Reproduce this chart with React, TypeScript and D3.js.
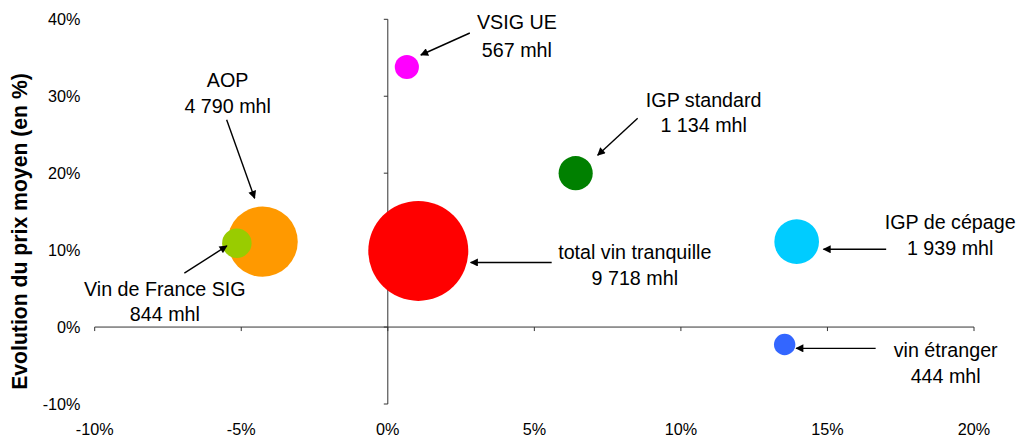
import React from 'react';
import * as d3 from 'd3';

// Catégories de vins, évolution (en %) et volumes (en milliers d'hl)
const categories = [
  'VSIG UE',
  'IGP standard',
  'AOP',
  'Vin de France SIG',
  'total vin tranquille',
  'IGP de cépage',
  'vin étranger',
];
const volumeChange = [0.65, 6.41, -4.27, -5.15, 1.04, 13.95, 13.54];
const priceChange = [33.8, 20.0, 11.1, 10.9, 9.9, 11.1, -2.27];
const volumesMhl = [567, 1134, 4790, 844, 9718, 1939, 444];
const bubbleColors = ['#FF00FF', '#008000', '#FF9900', '#99CC00', '#FF0000', '#00CCFF', '#3366FF'];

const xTicks = [-10, -5, 0, 5, 10, 15, 20];
const yTicks = [-10, 0, 10, 20, 30, 40];
const yTitle = 'Evolution du prix moyen (en %)';

// Callout layout, in pixels relative to each bubble centre:
// label anchor (centre of first baseline), arrow tail, arrow tip, line gap
const callouts = [
  { lx: 110, ly: -38, tx: 63, ty: -34, hx: 14, hy: -12, gap: 28 },
  { lx: 128, ly: -66.5, tx: 62, ty: -55, hx: 22, hy: -18, gap: 25 },
  { lx: -35, ly: -154.5, tx: -36, ty: -122, hx: -8, hy: -43.5, gap: 26 },
  { lx: -72, ly: 52.7, tx: -52.5, ty: 30, hx: -10, hy: 2.7, gap: 25 },
  { lx: 216.5, ly: 8.3, tx: 133.4, ty: 11.6, hx: 52.4, hy: 11.6, gap: 26 },
  { lx: 153.5, ly: -12.7, tx: 89.5, ty: 7.6, hx: 26.8, hy: 7.6, gap: 26 },
  { lx: 161, ly: 12.2, tx: 91, ty: 3.8, hx: 11.5, hy: 3.8, gap: 26.5 },
];

const W = 1021;
const H = 437;
const FONT = '"Liberation Sans", Arial, Helvetica, sans-serif';

const frLocale = d3.formatLocale({ decimal: ',', thousands: ' ', grouping: [3], currency: ['', ' €'] });
const fmtVol = frLocale.format(',d');

export default function App() {
  const x = d3.scaleLinear().domain([-10, 20]).range([94.7, 974]);
  const y = d3.scaleLinear().domain([-10, 40]).range([404, 19.3]);
  const r = d3.scaleSqrt().domain([0, 9718]).range([0, 50]);

  const x0 = x(0);
  const y0 = y(0);
  const axisColor = '#333';

  return (
    <svg
      width={W}
      height={H}
      viewBox={`0 0 ${W} ${H}`}
      style={{ position: 'absolute', left: 0, top: 0, background: '#fff', display: 'block' }}
      fontFamily={FONT}
    >
      <defs>
        <marker
          id="arrowHead"
          viewBox="0 0 10 10"
          refX="9"
          refY="5"
          markerWidth="9"
          markerHeight="8"
          markerUnits="userSpaceOnUse"
          orient="auto"
        >
          <path d="M0,0 L10,5 L0,10 Z" fill="#000" />
        </marker>
      </defs>

      {/* axes */}
      <line x1={x(-10)} x2={x(20)} y1={y0} y2={y0} stroke={axisColor} strokeWidth={1} />
      <line x1={x0} x2={x0} y1={y(40)} y2={y(-10)} stroke={axisColor} strokeWidth={1} />
      {xTicks.map((t) => (
        <g key={`xt${t}`}>
          <line x1={x(t)} x2={x(t)} y1={y0} y2={y0 + 4} stroke={axisColor} />
          <text x={x(t)} y={434.5} textAnchor="middle" fontSize={16.2} fill="#000">
            {`${t}%`}
          </text>
        </g>
      ))}
      {yTicks.map((t) => (
        <g key={`yt${t}`}>
          <line x1={x0 - 4} x2={x0} y1={y(t)} y2={y(t)} stroke={axisColor} />
          <text x={80.5} y={y(t) + 6} textAnchor="end" fontSize={16.2} fill="#000">
            {`${t}%`}
          </text>
        </g>
      ))}

      <text
        transform={`translate(26.5, 231.5) rotate(-90)`}
        textAnchor="middle"
        fontSize={21.2}
        fontWeight="bold"
        fill="#000"
      >
        {yTitle}
      </text>

      {/* bubbles */}
      {categories.map((c, i) => (
        <circle
          key={`b${c}`}
          cx={x(volumeChange[i])}
          cy={y(priceChange[i])}
          r={r(volumesMhl[i])}
          fill={bubbleColors[i]}
        />
      ))}

      {/* callouts */}
      {categories.map((c, i) => {
        const cx = x(volumeChange[i]);
        const cy = y(priceChange[i]);
        const k = callouts[i];
        return (
          <g key={`c${c}`}>
            <line
              x1={cx + k.tx}
              y1={cy + k.ty}
              x2={cx + k.hx}
              y2={cy + k.hy}
              stroke="#000"
              strokeWidth={1.4}
              markerEnd="url(#arrowHead)"
            />
            <text x={cx + k.lx} y={cy + k.ly} textAnchor="middle" fontSize={19.7} fill="#000">
              {c}
            </text>
            <text x={cx + k.lx} y={cy + k.ly + k.gap} textAnchor="middle" fontSize={19.7} fill="#000">
              {`${fmtVol(volumesMhl[i])} mhl`}
            </text>
          </g>
        );
      })}
    </svg>
  );
}
